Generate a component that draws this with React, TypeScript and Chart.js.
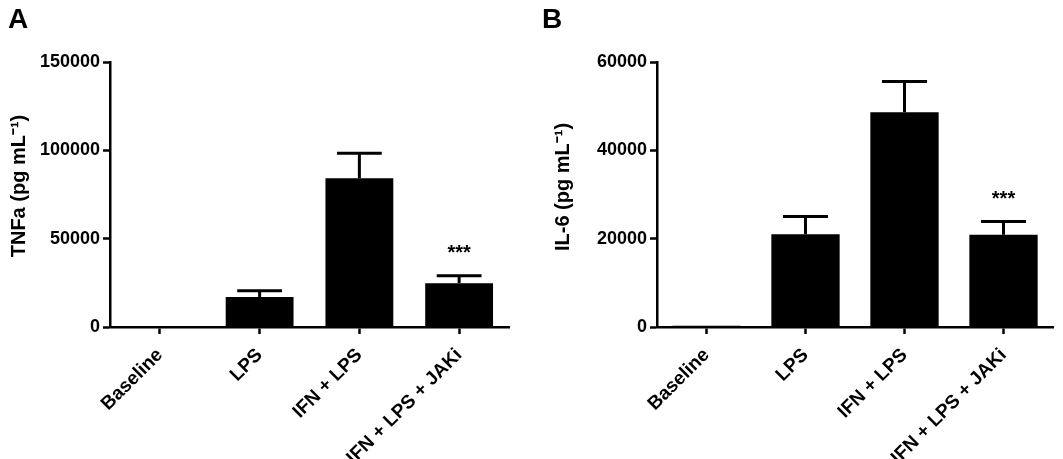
import React, { useEffect, useRef } from "react";
import { Chart, registerables } from "chart.js";

Chart.register(...registerables);

const categories = ["Baseline", "LPS", "IFN + LPS", "IFN + LPS + JAKi"];
const tnfMean = [200, 17000, 84200, 24700];
const tnfSem = [0, 3500, 14100, 4300];
const il6Mean = [300, 21000, 48600, 20900];
const il6Sem = [0, 4000, 7000, 3000];
const significance = ["", "", "", "***"];
const tnfTicks = [0, 50000, 100000, 150000];
const il6Ticks = [0, 20000, 40000, 60000];

const FONT = "'Liberation Sans', Arial, Helvetica, sans-serif";

const errorBarPlugin = {
  id: "errorBars",
  afterDatasetsDraw(chart: any, _args: any, opts: any) {
    const { ctx } = chart;
    const meta = chart.getDatasetMeta(0);
    const yScale = chart.scales.y;
    const sem: number[] = opts.sem || [];
    const mean: number[] = opts.mean || [];
    const sig: string[] = opts.sig || [];
    ctx.save();
    meta.data.forEach((el: any, i: number) => {
      const top = mean[i] + (sem[i] || 0);
      const yTop = yScale.getPixelForValue(top);
      const x = el.x;
      if (sem[i] > 0) {
        const capW = el.width * 0.66;
        ctx.strokeStyle = "#000";
        ctx.lineWidth = 3;
        ctx.lineCap = "butt";
        ctx.beginPath();
        ctx.moveTo(x, el.y);
        ctx.lineTo(x, yTop);
        ctx.moveTo(x - capW / 2, yTop);
        ctx.lineTo(x + capW / 2, yTop);
        ctx.stroke();
      }
      if (sig[i]) {
        ctx.fillStyle = "#000";
        ctx.font = `bold 20px ${FONT}`;
        ctx.textAlign = "center";
        ctx.textBaseline = "middle";
        ctx.fillText(sig[i], x, yTop - 22);
      }
    });
    // panel letter
    if (opts.letter) {
      ctx.fillStyle = "#000";
      ctx.font = `bold 28px ${FONT}`;
      ctx.textAlign = "left";
      ctx.textBaseline = "alphabetic";
      ctx.fillText(opts.letter, opts.letterX, 28);
    }
    // y-axis title
    if (opts.title) {
      ctx.translate(opts.titleX, opts.titleY);
      ctx.rotate(-Math.PI / 2);
      ctx.fillStyle = "#000";
      ctx.font = `bold 20px ${FONT}`;
      ctx.textAlign = "center";
      ctx.textBaseline = "middle";
      ctx.fillText(opts.title, 0, 0);
    }
    ctx.restore();
  },
};

function makeConfig(p: PanelProps): any {
  const tickFont = { family: FONT, size: 18, weight: "bold" as const };
  const xFont = { family: FONT, size: 19, weight: "bold" as const };
  const ticks = p.ticks;
  return {
    type: "bar",
    data: {
      labels: categories,
      datasets: [
        {
          data: p.mean,
          backgroundColor: "#000",
          borderWidth: 0,
          categoryPercentage: 1,
          barPercentage: p.barPct,
        },
      ],
    },
    plugins: [errorBarPlugin],
    options: {
      responsive: false,
      animation: false,
      devicePixelRatio: 1,
      layout: { padding: { left: 0, top: 62, right: p.rightPad, bottom: 0 } },
      plugins: {
        legend: { display: false },
        tooltip: { enabled: false },
        errorBars: {
          mean: p.mean,
          sem: p.sem,
          sig: significance,
          letter: p.letter,
          letterX: p.letterX,
          title: p.title,
          titleX: p.titleX,
          titleY: p.titleY,
        },
      },
      scales: {
        x: {
          grid: {
            display: true,
            drawOnChartArea: false,
            drawTicks: true,
            tickLength: 7,
            tickWidth: 2.5,
            color: "#000",
            offset: false,
          },
          border: { color: "#000", width: 2.5 },
          ticks: {
            color: "#000",
            font: xFont,
            minRotation: 45,
            maxRotation: 45,
            autoSkip: false,
            padding: 10,
          },
          afterFit: (s: any) => {
            s.height = 132;
          },
        },
        y: {
          min: ticks[0],
          max: ticks[ticks.length - 1],
          afterBuildTicks: (s: any) => {
            s.ticks = ticks.map((v) => ({ value: v }));
          },
          grid: {
            display: true,
            drawOnChartArea: false,
            drawTicks: true,
            tickLength: 7,
            tickWidth: 2.5,
            color: "#000",
          },
          border: { color: "#000", width: 2.5 },
          ticks: {
            color: "#000",
            font: tickFont,
            padding: 3,
            callback: (v: any) => String(v),
          },
          afterFit: (s: any) => {
            s.width = p.axisWidth;
          },
        },
      },
    },
  };
}

type PanelProps = {
  mean: number[];
  sem: number[];
  ticks: number[];
  title: string;
  titleX: number;
  titleY: number;
  axisWidth: number;
  rightPad: number;
  letter: string;
  letterX: number;
  width: number;
  left: number;
  barPct: number;
};

function BarPanel(props: PanelProps) {
  const ref = useRef<HTMLCanvasElement | null>(null);
  useEffect(() => {
    if (!ref.current) return;
    const chart = new Chart(ref.current, makeConfig(props));
    return () => chart.destroy();
  }, []);
  return (
    <canvas
      ref={ref}
      width={props.width}
      height={459}
      style={{
        position: "absolute",
        left: props.left,
        top: 0,
        width: props.width,
        height: 459,
      }}
    />
  );
}

export default function App() {
  useEffect(() => {
    document.body.style.margin = "0";
  }, []);
  return (
    <div
      style={{
        position: "absolute",
        left: 0,
        top: 0,
        width: 1063,
        height: 459,
        background: "#fff",
        overflow: "hidden",
      }}
    >
      <BarPanel
        mean={tnfMean}
        sem={tnfSem}
        ticks={tnfTicks}
        title="TNFa (pg mL⁻¹)"
        titleX={19}
        titleY={186}
        axisWidth={110}
        rightPad={21}
        letter="A"
        letterX={8}
        width={530}
        left={0}
        barPct={0.68}
      />
      <BarPanel
        mean={il6Mean}
        sem={il6Sem}
        ticks={il6Ticks}
        title="IL-6 (pg mL⁻¹)"
        titleX={33}
        titleY={187}
        axisWidth={127}
        rightPad={10}
        letter="B"
        letterX={12}
        width={533}
        left={530}
        barPct={0.69}
      />
    </div>
  );
}
